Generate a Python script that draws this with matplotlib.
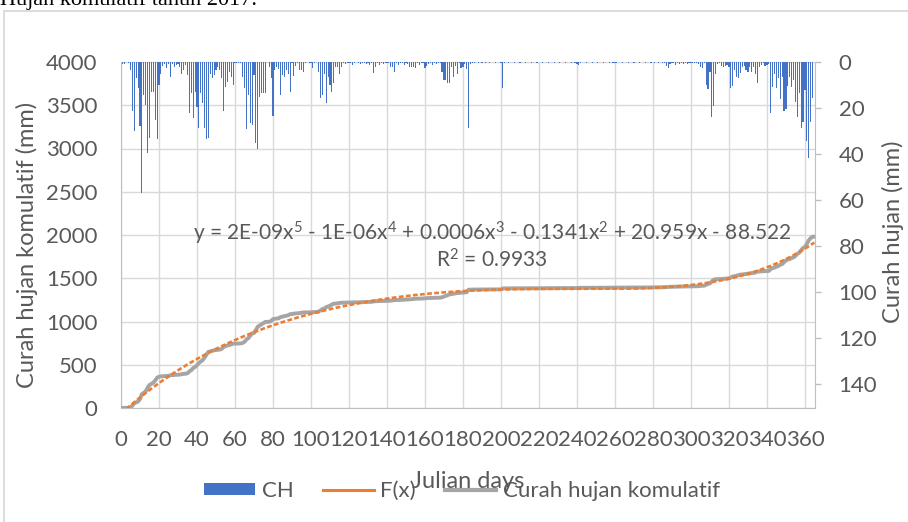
import numpy as np
import matplotlib
matplotlib.use("Agg")
import matplotlib.pyplot as plt  # noqa: E402
from matplotlib.lines import Line2D  # noqa: E402
from matplotlib.patches import Patch, Rectangle  # noqa: E402

# curah hujan harian (mm) 2017, per bulan
ch_jan = [1, 1, 0, 0.5, 3.5, 21.5, 30, 7, 11.4, 28, 57, 14.3, 18.6, 39.6, 33, 12.9,
          13, 25, 33.5, 10, 5, 1.7, 1, 2.8, 1, 6.4, 1, 2, 1.3, 1, 2.3]
ch_feb = [5, 3.5, 1.3, 5.6, 22, 13.6, 24.4, 12.9, 19.4, 28.5, 13.6, 17.9, 28.8, 33.5,
          33, 5, 7, 5.6, 3.5, 2, 3.5, 7, 21.5, 10.7, 8.5, 4.2, 6.4, 10]
ch_mar = [0.6, 0.6, 0.6, 0.3, 6.4, 11.4, 29.2, 14.3, 26.6, 27.3, 5.6, 35, 37.6, 15,
          13.6, 13.6, 13.6, 0, 2.3, 7, 23.4, 3.5, 2.3, 3.2, 14.3, 5.6, 6.4, 3.5, 5, 12.9, 0.5]
ch_apr = [6, 1.7, 0.5, 3.5, 3.5, 4.2, 0.5, 0, 0.5, 0.5, 2.7, 0.5, 0, 4.2, 15.8, 14.3,
          5, 18, 6.4, 10, 12.9, 9.2, 2, 2.3, 5, 2.3, 0.5, 1, 0.5, 0.5]
ch_mei = [0.5, 1.3, 0.5, 0, 0.5, 1, 0.5, 0.5, 1, 0.5, 1.3, 0.5, 4.6, 2.3, 0.5, 1.3,
          0.5, 1, 0.5, 0.5, 0.5, 2.3, 2.3, 4.2, 0.5, 1.3, 0.5, 0.5, 1.3, 0.5, 1]
ch_jun = [2.3, 2.3, 2.3, 2.7, 0.5, 1.3, 0.5, 0.5, 2.7, 1.7, 1, 0.5, 1.3, 0.5, 1, 0.5,
          0.5, 4.2, 8, 8, 9.2, 9.2, 2, 6.4, 1.7, 5, 0.5, 2.7, 2.3, 1]
ch_jul = [3.2, 28.6, 1, 0.5, 0.3, 0, 0.3, 0, 0.3, 0, 0.3, 0, 0.3, 0, 0, 0.3, 0, 0,
          0.3, 11.4, 0.3, 0, 0.3, 0, 0, 0.3, 0, 0, 0.3, 0, 0]
ch_agu = [0.3, 0, 0, 0.3, 0, 0, 0.3, 0, 0, 0.3, 0, 0, 0.3, 0, 0, 0.3, 0, 0, 0.3, 0,
          0, 0.3, 0, 0, 0.3, 0, 0.3, 1, 1.3, 0.3, 0]
ch_sep = [0, 0.3, 0, 0, 0.3, 0, 0, 0.3, 0, 0, 0.3, 0, 0, 0.3, 0, 0.3, 0.5, 0.3, 0, 0,
          0.3, 0, 0, 0.3, 0, 0, 0.3, 0, 0, 0.3]
ch_okt = [0, 0, 0.3, 0, 0, 0.3, 0, 0.3, 0, 0.3, 0, 0.5, 0.5, 1.7, 2.7, 0.8, 0.3, 0.5,
          1.2, 0.3, 0.8, 0.3, 0.8, 0.3, 0.8, 0.3, 0.3, 0.3, 0.3, 0.5, 0.8]
ch_nov = [2.3, 2.7, 0.5, 10, 11.8, 4.2, 24.1, 19.1, 5, 0.8, 0.5, 1.7, 2, 1.7, 1.3, 2.3,
          11.4, 10.4, 3.5, 6.4, 7, 4.6, 2.3, 1.7, 3.5, 4.2, 2.3, 4.2, 2.3, 5.2]
ch_des = [9, 2.3, 1.3, 0.5, 1.7, 1.3, 0.8, 22.3, 11, 5, 11.4, 7, 16.2, 6.4, 21.5, 20.5,
          10.4, 6.4, 10.7, 7.8, 17.2, 23.7, 13.6, 28.8, 25.9, 12.1, 34.1, 41.8, 25.9, 15.8, 0]

x_ticks = list(range(0, 361, 20))
y_left_ticks = list(range(0, 4001, 500))
y_right_ticks = list(range(0, 141, 20))
teks_persamaan = ("y = 2E-09x$^{5}$ - 1E-06x$^{4}$ + 0.0006x$^{3}$ - 0.1341x$^{2}$"
                  " + 20.959x - 88.522")
teks_r2 = "R$^{2}$ = 0.9933"

ch = np.array(ch_jan + ch_feb + ch_mar + ch_apr + ch_mei + ch_jun + ch_jul
              + ch_agu + ch_sep + ch_okt + ch_nov + ch_des, dtype=float)
hari = np.arange(1, len(ch) + 1)
hari_kum = np.arange(0, len(ch) + 1)
kumulatif = np.concatenate([[0.0], np.cumsum(ch)])

# trendline polinomial orde 5 (seperti Excel)
koef = np.polyfit(hari_kum, kumulatif, 5)
fx = np.polyval(koef, hari_kum)

plt.rcParams["font.family"] = ["Lato", "DejaVu Sans"]
plt.rcParams["mathtext.fontset"] = "custom"
plt.rcParams["mathtext.rm"] = "Lato"
plt.rcParams["mathtext.it"] = "Lato:italic"

TXT = "#595959"
GRID = "#D9D9D9"
AXL = "#BFBFBF"

W, H = 908, 522
fig = plt.figure(figsize=(W / 100, H / 100), dpi=100)
ax = fig.add_axes([121 / W, 1 - 408 / H, (815 - 121) / W, (408 - 62) / H])
ax2 = ax.twinx()

ax.plot(hari_kum, kumulatif, color="#A5A5A5", lw=2.8, solid_capstyle="round", zorder=3)
ax.plot(hari_kum, fx, color="#ED7D31", lw=1.9, ls=(0, (1.8, 0.9)), zorder=4)
ax2.bar(hari, ch, width=0.6, color="#4472C4", linewidth=0)

ax.set_xlim(0, 365.3)
ax.set_ylim(0, 4000)
ax2.set_ylim(150.3, 0)
ax.set_xticks(x_ticks)
ax.set_yticks(y_left_ticks)
ax2.set_yticks(y_right_ticks)
ax.grid(True, color=GRID, lw=1.0)
ax.set_axisbelow(True)

for s in ("left", "bottom"):
    ax.spines[s].set_color(AXL)
ax.spines["top"].set_color(GRID)
ax.spines["right"].set_visible(False)
for s in ("left", "top", "bottom"):
    ax2.spines[s].set_visible(False)
ax2.spines["right"].set_color(AXL)

ax.tick_params(axis="both", length=0, labelsize=16, labelcolor=TXT)
ax.tick_params(axis="y", pad=17)
ax.tick_params(axis="x", pad=16)
ax2.tick_params(axis="y", length=4, color=AXL, width=1, labelsize=16,
                labelcolor=TXT, pad=13)

fig.text(27 / W, 1 - 245 / H, "Curah hujan komulatif (mm)", rotation=90,
         ha="center", va="center", fontsize=17, color=TXT)
fig.text(893 / W, 1 - 232 / H, "Curah hujan (mm)", rotation=90,
         ha="center", va="center", fontsize=17, color=TXT)
fig.text(468 / W, 1 - 482 / H, "Julian days", ha="center", va="center",
         fontsize=17, color=TXT)

fig.text(492 / W, 1 - 233 / H, teks_persamaan, ha="center", va="center",
         fontsize=15, color=TXT)
fig.text(492 / W, 1 - 260 / H, teks_r2, ha="center", va="center",
         fontsize=15, color=TXT)

handles = [Patch(facecolor="#4472C4", edgecolor="none"),
           Line2D([], [], color="#ED7D31", lw=2.2),
           Line2D([], [], color="#A5A5A5", lw=3)]
leg = fig.legend(handles, ["CH", "F(x)", "Curah hujan komulatif"], loc="center",
                 bbox_to_anchor=(462 / W, 1 - 491 / H), ncol=3, frameon=False,
                 fontsize=16, handlelength=2.3, handleheight=0.45,
                 handletextpad=0.3, columnspacing=1.3)
for t in leg.get_texts():
    t.set_color(TXT)

# bingkai area grafik + potongan teks dokumen di atasnya
fig.patches.append(Rectangle((4 / W, -0.1), 1.2, 1.1 - 10.5 / H, fill=False,
                             edgecolor=GRID, lw=1.3, transform=fig.transFigure))
fig.text(0, 1 - 5 / H, "Hujan komulatif tahun 2017.", family="Liberation Serif",
         fontsize=16, color="black", ha="left", va="baseline")

fig.savefig("out.png", dpi=100)
